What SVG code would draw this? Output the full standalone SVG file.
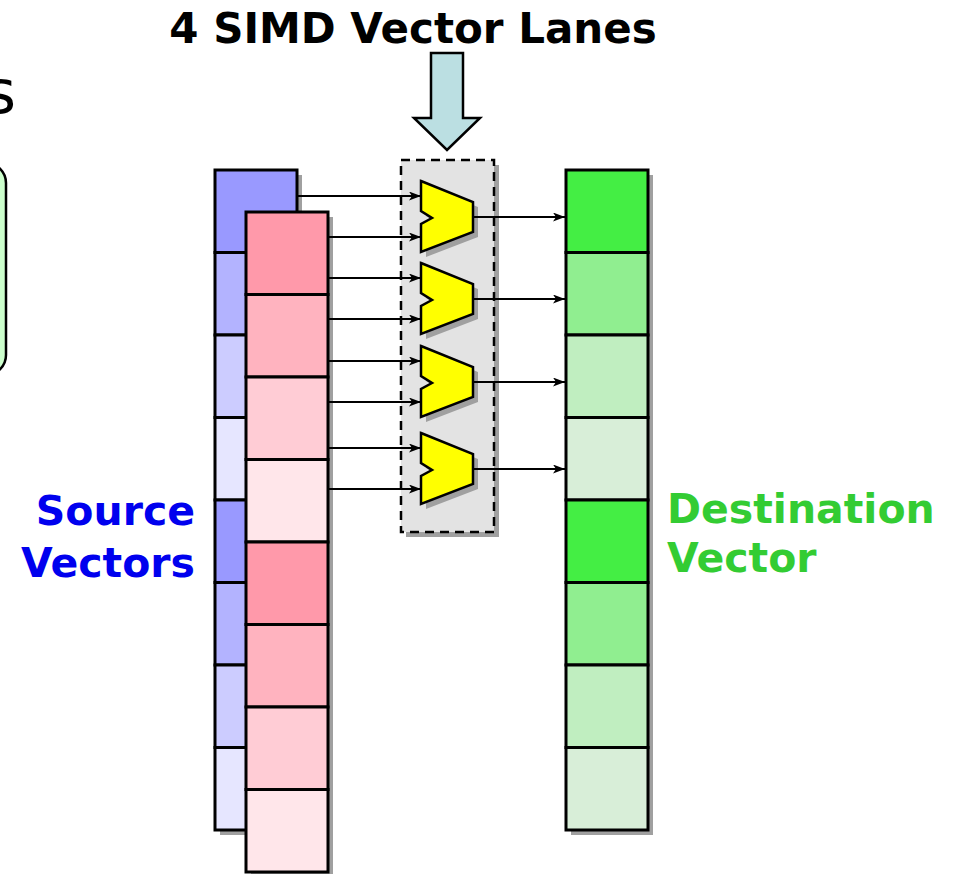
<svg xmlns="http://www.w3.org/2000/svg" width="957" height="874" viewBox="0 0 957 874">
<defs>
<style>
.cell{stroke:#000;stroke-width:3}
.sh{fill:#a0a0a0}
.alu{fill:#ffff00;stroke:#000;stroke-width:2.5;stroke-linejoin:miter}
.wire{stroke:#000;stroke-width:1.8;fill:none}
.lbl{font-family:"DejaVu Sans",Verdana,sans-serif;font-weight:bold}
</style>
<marker id="ah" viewBox="0 0 12 9" refX="12" refY="4.5" markerWidth="12" markerHeight="9" markerUnits="userSpaceOnUse" orient="auto">
<path d="M0,0 L12,4.5 L0,9 L3,4.5 Z" fill="#000"/>
</marker>
<polygon id="aluShape" points="0,0 52,21 52,51 0,71 0,43 11,37 0,30"/>
</defs>
<rect width="957" height="874" fill="#fff"/>

<g id="left-box">
<rect x="-100" y="163" width="106" height="212" rx="20" fill="#ccffcc" stroke="#000" stroke-width="2.5"/>
</g>
<text x="16" y="113" font-family="DejaVu Sans,Verdana,sans-serif" font-size="60" text-anchor="end" fill="#000">s</text>

<g id="title">
<text class="lbl" x="413" y="43" font-size="42" text-anchor="middle" fill="#000">4 SIMD Vector Lanes</text>
</g>

<g id="lanes-arrow">
<polygon points="431,53 463,53 463,118 480,118 447,150 414,118 431,118" fill="#bbdfe2" stroke="#000" stroke-width="2.5"/>
</g>

<g id="source-vector-a">
<rect class="sh" x="220" y="175" width="82" height="660"/>
<rect class="cell" x="215" y="170" width="82" height="82.5" fill="#9999ff"/>
<rect class="cell" x="215" y="252.5" width="82" height="82.5" fill="#b3b3ff"/>
<rect class="cell" x="215" y="335" width="82" height="82.5" fill="#ccccff"/>
<rect class="cell" x="215" y="417.5" width="82" height="82.5" fill="#e6e6ff"/>
<rect class="cell" x="215" y="500" width="82" height="82.5" fill="#9999ff"/>
<rect class="cell" x="215" y="582.5" width="82" height="82.5" fill="#b3b3ff"/>
<rect class="cell" x="215" y="665" width="82" height="82.5" fill="#ccccff"/>
<rect class="cell" x="215" y="747.5" width="82" height="82.5" fill="#e6e6ff"/>
</g>

<g id="source-vector-b">
<rect class="sh" x="251" y="217" width="82" height="660"/>
<rect class="cell" x="246" y="212" width="82" height="82.5" fill="#ff99aa"/>
<rect class="cell" x="246" y="294.5" width="82" height="82.5" fill="#ffb3bf"/>
<rect class="cell" x="246" y="377" width="82" height="82.5" fill="#ffccd5"/>
<rect class="cell" x="246" y="459.5" width="82" height="82.5" fill="#ffe6ea"/>
<rect class="cell" x="246" y="542" width="82" height="82.5" fill="#ff99aa"/>
<rect class="cell" x="246" y="624.5" width="82" height="82.5" fill="#ffb3bf"/>
<rect class="cell" x="246" y="707" width="82" height="82.5" fill="#ffccd5"/>
<rect class="cell" x="246" y="789.5" width="82" height="82.5" fill="#ffe6ea"/>
</g>

<g id="dest-vector">
<rect class="sh" x="571" y="175" width="82" height="660"/>
<rect class="cell" x="566" y="170" width="82" height="82.5" fill="#44ee44"/>
<rect class="cell" x="566" y="252.5" width="82" height="82.5" fill="#90ee90"/>
<rect class="cell" x="566" y="335" width="82" height="82.5" fill="#c0eec0"/>
<rect class="cell" x="566" y="417.5" width="82" height="82.5" fill="#d8eed8"/>
<rect class="cell" x="566" y="500" width="82" height="82.5" fill="#44ee44"/>
<rect class="cell" x="566" y="582.5" width="82" height="82.5" fill="#90ee90"/>
<rect class="cell" x="566" y="665" width="82" height="82.5" fill="#c0eec0"/>
<rect class="cell" x="566" y="747.5" width="82" height="82.5" fill="#d8eed8"/>
</g>

<g id="lane-box">
<rect class="sh" x="406" y="165" width="93" height="372"/>
<rect x="401" y="160" width="93" height="372" fill="#e3e3e3" stroke="#000" stroke-width="2.5" stroke-dasharray="9,6"/>
</g>

<g id="alu-1">
<use href="#aluShape" x="426" y="186" class="sh"/>
<use href="#aluShape" x="421" y="181" class="alu"/>
</g>
<g id="alu-2">
<use href="#aluShape" x="426" y="268" class="sh"/>
<use href="#aluShape" x="421" y="263" class="alu"/>
</g>
<g id="alu-3">
<use href="#aluShape" x="426" y="351" class="sh"/>
<use href="#aluShape" x="421" y="346" class="alu"/>
</g>
<g id="alu-4">
<use href="#aluShape" x="426" y="438" class="sh"/>
<use href="#aluShape" x="421" y="433" class="alu"/>
</g>

<g id="connectors">
<line class="wire" x1="298" y1="196" x2="421" y2="196" marker-end="url(#ah)"/>
<line class="wire" x1="329" y1="237" x2="421" y2="237" marker-end="url(#ah)"/>
<line class="wire" x1="329" y1="278" x2="421" y2="278" marker-end="url(#ah)"/>
<line class="wire" x1="329" y1="319" x2="421" y2="319" marker-end="url(#ah)"/>
<line class="wire" x1="329" y1="361" x2="421" y2="361" marker-end="url(#ah)"/>
<line class="wire" x1="329" y1="402" x2="421" y2="402" marker-end="url(#ah)"/>
<line class="wire" x1="329" y1="448" x2="421" y2="448" marker-end="url(#ah)"/>
<line class="wire" x1="329" y1="489" x2="421" y2="489" marker-end="url(#ah)"/>
<line class="wire" x1="473" y1="217" x2="565" y2="217" marker-end="url(#ah)"/>
<line class="wire" x1="473" y1="299" x2="565" y2="299" marker-end="url(#ah)"/>
<line class="wire" x1="473" y1="382" x2="565" y2="382" marker-end="url(#ah)"/>
<line class="wire" x1="473" y1="469" x2="565" y2="469" marker-end="url(#ah)"/>
</g>

<g id="source-label">
<text class="lbl" font-size="41" text-anchor="end" fill="#0000ee"><tspan x="195" y="525">Source</tspan><tspan x="195" y="577">Vectors</tspan></text>
</g>
<g id="dest-label">
<text class="lbl" font-size="41" fill="#33cc33"><tspan x="667" y="523">Destination</tspan><tspan x="667" y="572">Vector</tspan></text>
</g>
</svg>
